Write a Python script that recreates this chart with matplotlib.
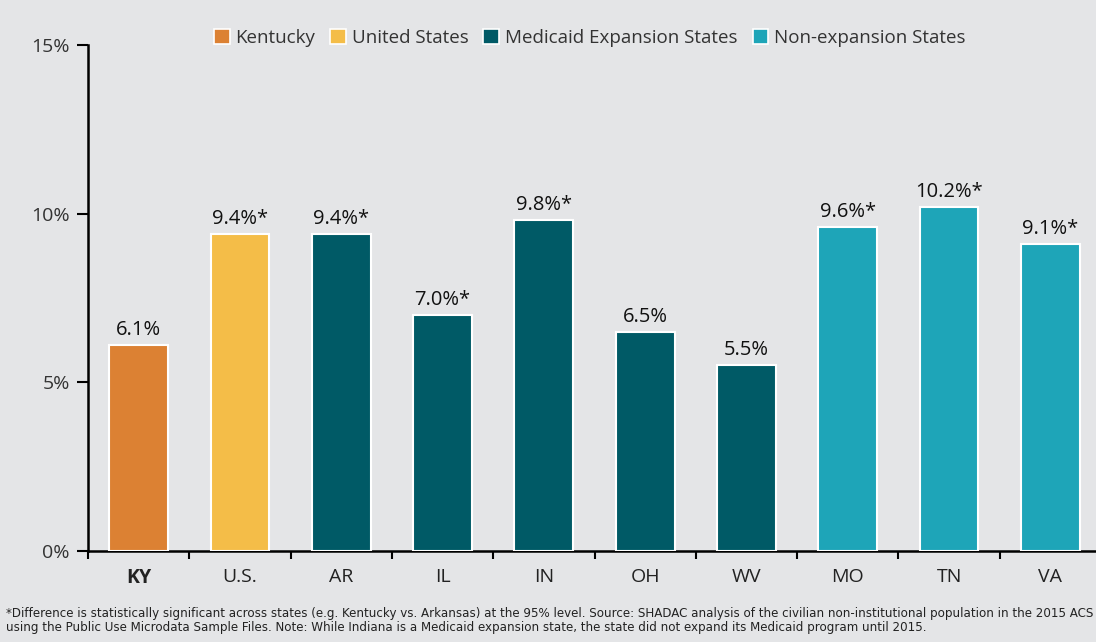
import matplotlib.pyplot as plt
from matplotlib.patches import Patch

plt.rcParams['font.family'] = ['Open Sans', 'DejaVu Sans']

# dados
estados = ["KY", "U.S.", "AR", "IL", "IN", "OH", "WV", "MO", "TN", "VA"]
valores = [6.1, 9.4, 9.4, 7.0, 9.8, 6.5, 5.5, 9.6, 10.2, 9.1]
rotulos = ["6.1%", "9.4%*", "9.4%*", "7.0%*", "9.8%*", "6.5%", "5.5%", "9.6%*", "10.2%*", "9.1%*"]
grupos = ["ky", "us", "exp", "exp", "exp", "exp", "exp", "non", "non", "non"]

cores = {"ky": "#DC8133", "us": "#F4BD48", "exp": "#005A66", "non": "#1EA5B8"}
nomes_legenda = {"ky": "Kentucky", "us": "United States", "exp": "Medicaid Expansion States",
                 "non": "Non-expansion States"}

fundo = "#E4E5E7"
fig = plt.figure(figsize=(10.96, 6.42), dpi=100, facecolor=fundo)
ax = fig.add_axes([0.0803, 0.1417, 0.9243, 0.7883])
ax.set_facecolor(fundo)

x = list(range(len(estados)))
ax.bar([i + 0.5 for i in x], valores, width=0.58,
       color=[cores[g] for g in grupos], edgecolor="white", linewidth=1.5, zorder=3)

for i, (v, r) in enumerate(zip(valores, rotulos)):
    ax.text(i + 0.5, v + 0.15, r, ha="center", va="bottom", fontsize=14.5, color="#111111")

ax.set_xlim(0, 10)
ax.set_ylim(0, 15)
ax.set_yticks([0, 5, 10, 15])
ax.set_yticklabels(["0%", "5%", "10%", "15%"], fontsize=14, color="#333333")
ax.set_xticks(range(0, 11))
ax.set_xticklabels([])
ax.tick_params(axis="y", direction="out", length=8, width=1.5, pad=5)
ax.tick_params(axis="x", direction="out", length=6, width=1.5)

for i, e in enumerate(estados):
    ax.text(i + 0.5, -0.5, e, ha="center", va="top", fontsize=14, color="#222222",
            fontweight="bold" if e == "KY" else "normal")

for lado in ["top", "right"]:
    ax.spines[lado].set_visible(False)
for lado in ["left", "bottom"]:
    ax.spines[lado].set_linewidth(1.8)
    ax.spines[lado].set_color("black")

handles = [Patch(facecolor=cores[g], edgecolor="white", linewidth=1.2, label=nomes_legenda[g])
           for g in ["ky", "us", "exp", "non"]]
fig.legend(handles=handles, loc="center", bbox_to_anchor=(0.538, 0.941), ncol=4, frameon=False,
           fontsize=13.5, handlelength=0.85, handleheight=0.9, handletextpad=0.3, columnspacing=0.8,
           labelcolor="#333333")

nota = ("*Difference is statistically significant across states (e.g. Kentucky vs. Arkansas) at the 95% level. "
        "Source: SHADAC analysis of the civilian non-institutional population in the 2015 ACS\n"
        "using the Public Use Microdata Sample Files. Note: While Indiana is a Medicaid expansion state, "
        "the state did not expand its Medicaid program until 2015.")
fig.text(0.0055, 0.012, nota, fontsize=8.6, family=["Liberation Sans Narrow", "DejaVu Sans"],
         color="#222222", ha="left", va="bottom", linespacing=1.1)

plt.savefig("out.png", dpi=100, facecolor=fundo)
